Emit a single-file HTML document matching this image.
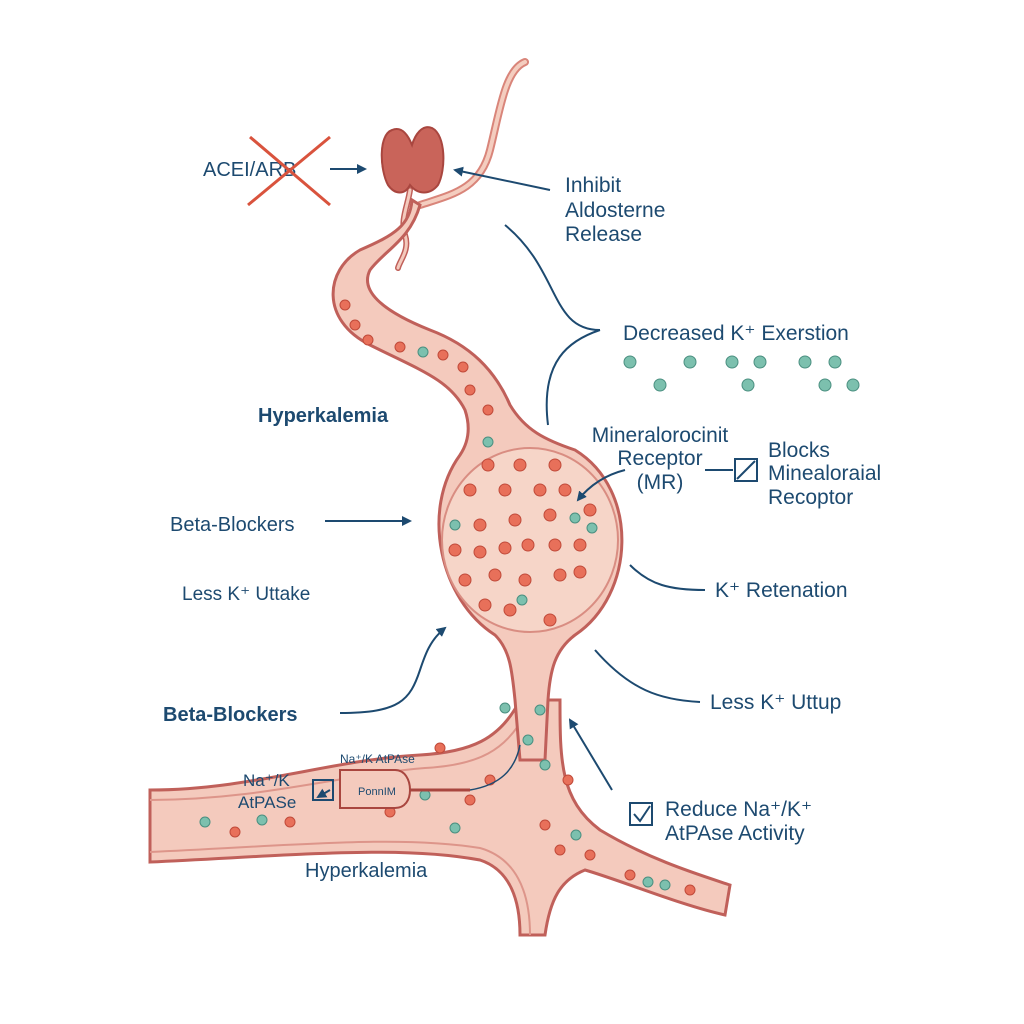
<!DOCTYPE html>
<html><head><meta charset="utf-8"><style>
html,body{margin:0;padding:0;background:#fff;}
svg{display:block;}
text{font-family:"Liberation Sans",sans-serif;fill:#1d4a70;}
</style></head><body>
<svg width="1024" height="1024" viewBox="0 0 1024 1024" xmlns="http://www.w3.org/2000/svg">
<defs>
<marker id="ah" markerWidth="10" markerHeight="10" refX="8" refY="5" orient="auto" markerUnits="userSpaceOnUse"><path d="M0,0 L10,5 L0,10 Z" fill="#1d4a70"/></marker>
</defs>
<rect width="1024" height="1024" fill="#fff"/>

<!-- thin top tube -->
<path d="M525,62 C505,70 500,110 490,150 C480,190 450,195 420,205" fill="none" stroke="#d9857a" stroke-width="8" stroke-linecap="round"/>
<path d="M525,62 C505,70 500,110 490,150 C480,190 450,195 420,205" fill="none" stroke="#f4cdbf" stroke-width="4" stroke-linecap="round"/>
<path d="M410,190 C408,205 400,220 405,235 C410,250 400,260 398,268" fill="none" stroke="#c0605a" stroke-width="6" stroke-linecap="round"/>
<path d="M410,190 C408,205 400,220 405,235 C410,250 400,260 398,268" fill="none" stroke="#f4cabd" stroke-width="3" stroke-linecap="round"/>

<!-- horizontal vessel -->
<path d="M150,790 C250,790 330,760 420,755 C470,752 500,740 520,700 L560,700 C560,760 560,800 600,830 C650,860 700,875 730,885 L725,915 C680,905 620,880 585,870 C560,880 550,900 545,935 L520,935 C520,900 510,870 480,860 C400,845 300,855 150,862 Z" fill="#f4cabd" stroke="#c0605a" stroke-width="3"/>
<path d="M150,800 C260,800 340,775 425,768 C480,765 505,750 525,715" fill="none" stroke="#dd958a" stroke-width="2"/>
<path d="M150,852 C300,845 400,835 480,848 C515,858 530,890 530,935" fill="none" stroke="#dd958a" stroke-width="2"/>

<!-- stem and bulb and upper tube -->
<path d="M412,200 C410,225 395,235 360,250 C325,270 320,320 370,345 C420,370 450,380 465,410 C470,425 470,440 460,455 C420,510 440,600 495,635 C510,650 512,670 515,700 L520,760 L545,760 L548,700 C550,670 555,650 575,635 C635,595 640,490 575,450 C545,440 525,430 510,405 C495,370 470,345 430,330 C380,310 360,290 370,270 C385,250 410,240 420,205 Z" fill="#f4cabd" stroke="#c0605a" stroke-width="3"/>
<ellipse cx="530" cy="540" rx="88" ry="92" fill="#f6d5c8" stroke="#d98d82" stroke-width="2"/>

<!-- adrenal gland -->
<path d="M392,130 C378,135 380,170 388,185 C395,195 405,195 410,185 C418,195 430,195 438,185 C446,170 446,135 432,128 C422,124 415,135 412,145 C408,135 402,126 392,130 Z" fill="#c9645a" stroke="#a9463f" stroke-width="2"/>

<!-- red dots -->
<g fill="#e8705a" stroke="#c04a3a" stroke-width="1">
<circle cx="345" cy="305" r="5"/><circle cx="355" cy="325" r="5"/><circle cx="368" cy="340" r="5"/><circle cx="400" cy="347" r="5"/><circle cx="443" cy="355" r="5"/><circle cx="463" cy="367" r="5"/><circle cx="470" cy="390" r="5"/><circle cx="488" cy="410" r="5"/><circle cx="488" cy="465" r="6"/><circle cx="520" cy="465" r="6"/><circle cx="555" cy="465" r="6"/><circle cx="470" cy="490" r="6"/><circle cx="505" cy="490" r="6"/><circle cx="540" cy="490" r="6"/><circle cx="565" cy="490" r="6"/><circle cx="590" cy="510" r="6"/><circle cx="480" cy="525" r="6"/><circle cx="515" cy="520" r="6"/><circle cx="550" cy="515" r="6"/><circle cx="455" cy="550" r="6"/><circle cx="480" cy="552" r="6"/><circle cx="505" cy="548" r="6"/><circle cx="528" cy="545" r="6"/><circle cx="555" cy="545" r="6"/><circle cx="580" cy="545" r="6"/><circle cx="465" cy="580" r="6"/><circle cx="495" cy="575" r="6"/><circle cx="525" cy="580" r="6"/><circle cx="560" cy="575" r="6"/><circle cx="580" cy="572" r="6"/><circle cx="485" cy="605" r="6"/><circle cx="510" cy="610" r="6"/><circle cx="550" cy="620" r="6"/><circle cx="440" cy="748" r="5"/><circle cx="490" cy="780" r="5"/><circle cx="470" cy="800" r="5"/><circle cx="390" cy="812" r="5"/><circle cx="290" cy="822" r="5"/><circle cx="235" cy="832" r="5"/><circle cx="545" cy="825" r="5"/><circle cx="560" cy="850" r="5"/><circle cx="590" cy="855" r="5"/><circle cx="630" cy="875" r="5"/><circle cx="690" cy="890" r="5"/><circle cx="568" cy="780" r="5"/>
</g>
<g fill="#7cc0ae" stroke="#4a8f80" stroke-width="1">
<circle cx="423" cy="352" r="5"/><circle cx="488" cy="442" r="5"/><circle cx="455" cy="525" r="5"/><circle cx="575" cy="518" r="5"/><circle cx="592" cy="528" r="5"/><circle cx="522" cy="600" r="5"/><circle cx="505" cy="708" r="5"/><circle cx="540" cy="710" r="5"/><circle cx="528" cy="740" r="5"/><circle cx="545" cy="765" r="5"/><circle cx="455" cy="828" r="5"/><circle cx="425" cy="795" r="5"/><circle cx="262" cy="820" r="5"/><circle cx="205" cy="822" r="5"/><circle cx="576" cy="835" r="5"/><circle cx="648" cy="882" r="5"/><circle cx="665" cy="885" r="5"/>
<circle cx="630" cy="362" r="6"/><circle cx="690" cy="362" r="6"/><circle cx="732" cy="362" r="6"/><circle cx="760" cy="362" r="6"/><circle cx="805" cy="362" r="6"/><circle cx="835" cy="362" r="6"/>
<circle cx="660" cy="385" r="6"/><circle cx="748" cy="385" r="6"/><circle cx="825" cy="385" r="6"/><circle cx="853" cy="385" r="6"/>
</g>

<!-- pump -->
<path d="M340,770 L395,770 C405,770 410,780 410,790 C410,800 405,808 395,808 L340,808 Z" fill="#f4cabd" stroke="#a9463f" stroke-width="2"/>
<line x1="410" y1="790" x2="470" y2="790" stroke="#a9463f" stroke-width="3"/>
<path d="M470,790 C500,785 515,770 520,745" fill="none" stroke="#1d4a70" stroke-width="1.5"/>
<text x="358" y="795" font-size="11">PonnIM</text>
<text x="340" y="763" font-size="12">Na⁺/K AtPAse</text>
<rect x="313" y="780" width="20" height="20" fill="none" stroke="#1d4a70" stroke-width="2"/>
<path d="M330,790 L318,797" stroke="#1d4a70" stroke-width="2" marker-end="url(#ah)"/>
<text x="243" y="786" font-size="17">Na⁺/K</text>
<text x="238" y="808" font-size="17">AtPASe</text>

<!-- ACEI/ARB -->
<text x="203" y="176" font-size="20">ACEI/ARB</text>
<line x1="250" y1="137" x2="330" y2="205" stroke="#d9533d" stroke-width="3"/>
<line x1="248" y1="205" x2="330" y2="137" stroke="#d9533d" stroke-width="3"/>
<line x1="330" y1="169" x2="365" y2="169" stroke="#1d4a70" stroke-width="2" marker-end="url(#ah)"/>
<line x1="550" y1="190" x2="455" y2="170" stroke="#1d4a70" stroke-width="2" marker-end="url(#ah)"/>
<text x="565" y="192" font-size="21">Inhibit</text>
<text x="565" y="217" font-size="21">Aldosterne</text>
<text x="565" y="241" font-size="21">Release</text>

<path d="M505,225 C560,270 550,330 600,330 M600,330 C570,340 540,360 548,425" fill="none" stroke="#1d4a70" stroke-width="2"/>
<text x="623" y="340" font-size="21">Decreased K⁺ Exerstion</text>

<text x="258" y="422" font-size="20" font-weight="bold">Hyperkalemia</text>

<text x="660" y="442" font-size="21" text-anchor="middle">Mineralorocinit</text>
<text x="660" y="465" font-size="21" text-anchor="middle">Receptor</text>
<text x="660" y="489" font-size="21" text-anchor="middle">(MR)</text>
<path d="M625,470 C605,475 590,485 578,500" fill="none" stroke="#1d4a70" stroke-width="2" marker-end="url(#ah)"/>
<line x1="705" y1="470" x2="733" y2="470" stroke="#1d4a70" stroke-width="2"/>
<rect x="735" y="459" width="22" height="22" fill="none" stroke="#1d4a70" stroke-width="2"/>
<line x1="737" y1="479" x2="755" y2="461" stroke="#1d4a70" stroke-width="2"/>
<text x="768" y="457" font-size="21">Blocks</text>
<text x="768" y="480" font-size="21">Minealoraial</text>
<text x="768" y="504" font-size="21">Recoptor</text>

<text x="170" y="531" font-size="20">Beta-Blockers</text>
<line x1="325" y1="521" x2="410" y2="521" stroke="#1d4a70" stroke-width="2" marker-end="url(#ah)"/>
<text x="182" y="600" font-size="19">Less K⁺ Uttake</text>

<path d="M630,565 C650,585 670,590 705,590" fill="none" stroke="#1d4a70" stroke-width="2"/>
<text x="715" y="597" font-size="21">K⁺ Retenation</text>

<text x="163" y="721" font-size="20" font-weight="bold">Beta-Blockers</text>
<path d="M340,713 C400,713 410,700 420,670 C425,655 430,640 445,628" fill="none" stroke="#1d4a70" stroke-width="2" marker-end="url(#ah)"/>

<path d="M595,650 C630,690 660,700 700,702" fill="none" stroke="#1d4a70" stroke-width="2"/>
<text x="710" y="709" font-size="21">Less K⁺ Uttup</text>

<line x1="612" y1="790" x2="570" y2="720" stroke="#1d4a70" stroke-width="2" marker-end="url(#ah)"/>
<rect x="630" y="803" width="22" height="22" fill="none" stroke="#1d4a70" stroke-width="2"/>
<path d="M634,814 L640,821 L650,806" fill="none" stroke="#1d4a70" stroke-width="2"/>
<text x="665" y="816" font-size="21">Reduce Na⁺/K⁺</text>
<text x="665" y="840" font-size="21">AtPAse Activity</text>

<text x="305" y="877" font-size="20">Hyperkalemia</text>
</svg>
</body></html>
